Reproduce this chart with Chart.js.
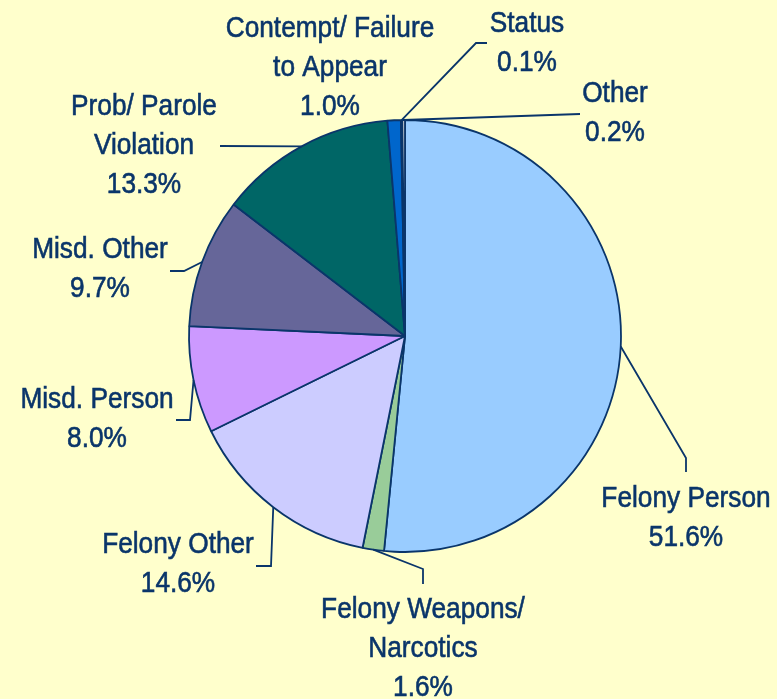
<!DOCTYPE html>
<html>
<head>
<meta charset="utf-8">
<script src="https://cdn.jsdelivr.net/npm/chart.js@4"></script>
<style>
  html, body { margin: 0; padding: 0; background: #FFFFCC; }
  #wrap { width: 777px; height: 699px; }
</style>
</head>
<body>
<div id="wrap"><canvas id="c" width="777" height="699"></canvas></div>
<script>
// ---- data ----
const categories = [
  'Felony Person',
  'Felony Weapons/\nNarcotics',
  'Felony Other',
  'Misd. Person',
  'Misd. Other',
  'Prob/ Parole\nViolation',
  'Contempt/ Failure\nto Appear',
  'Status',
  'Other'
];
const values = [51.6, 1.6, 14.6, 8.0, 9.7, 13.3, 1.0, 0.1, 0.2];
const sliceColors = ['#99CCFF', '#99CC99', '#CCCCFF', '#CC99FF', '#666699', '#006666', '#0066CC', '#A6A6A6', '#DDDDDD'];

// ---- label layout (annotation positions: text centre x, first baseline y, leader elbows) ----
const labelLayout = [
  { x: 686, y: 507, leader: [[686, 458], [686, 472]] },
  { x: 423, y: 618, leader: [[423, 569], [423, 584]] },
  { x: 178, y: 553, leader: [[271, 566], [256, 566]] },
  { x: 97,  y: 408, leader: [[190, 420], [176, 420]] },
  { x: 100, y: 258, leader: [[184, 271], [170, 271]] },
  { x: 144, y: 115, leader: [[220, 146]] },
  { x: 330, y: 37,  leader: null },
  { x: 527, y: 32,  leader: [[476, 43], [487, 43]] },
  { x: 615, y: 102, leader: [[580, 114]] }
];

const textColor = '#0A356A';
const lineHeight = 39;
const labelFont = '30px "Liberation Sans", Arial, sans-serif';
const textSqueeze = 0.875;

const labelPlugin = {
  id: 'pieLabels',
  afterDraw(chart) {
    const ctx = chart.ctx;
    const meta = chart.getDatasetMeta(0);
    ctx.save();
    ctx.strokeStyle = textColor;
    ctx.fillStyle = textColor;
    ctx.font = labelFont;
    ctx.textAlign = 'center';
    ctx.textBaseline = 'alphabetic';
    meta.data.forEach((arc, i) => {
      const lay = labelLayout[i];
      const p = arc.getProps(['x', 'y', 'startAngle', 'endAngle', 'outerRadius'], true);
      const mid = (p.startAngle + p.endAngle) / 2;
      if (lay.leader) {
        ctx.lineWidth = 1.8;
        ctx.beginPath();
        ctx.moveTo(p.x + Math.cos(mid) * p.outerRadius, p.y + Math.sin(mid) * p.outerRadius);
        lay.leader.forEach(pt => ctx.lineTo(pt[0], pt[1]));
        ctx.stroke();
      }
      const lines = categories[i].split('\n').concat([values[i].toFixed(1) + '%']);
      lines.forEach((t, k) => {
        ctx.save();
        ctx.translate(lay.x, lay.y + k * lineHeight);
        ctx.scale(textSqueeze, 1);
        ctx.lineWidth = 0.6;
        ctx.fillText(t, 0, 0);
        ctx.strokeText(t, 0, 0);
        ctx.restore();
      });
    });
    ctx.restore();
  }
};

new Chart(document.getElementById('c'), {
  type: 'pie',
  data: {
    labels: categories.map(s => s.replace('\n', ' ')),
    datasets: [{
      data: values,
      backgroundColor: sliceColors,
      borderColor: '#0A356A',
      borderWidth: 1.8,
      hoverBorderWidth: 1.8,
      hoverOffset: 0
    }]
  },
  options: {
    responsive: false,
    animation: false,
    events: [],
    layout: { padding: { top: 119.1, bottom: 146.1, left: 188.1, right: 155.1 } },
    plugins: { legend: { display: false }, tooltip: { enabled: false } }
  },
  plugins: [labelPlugin]
});
</script>
</body>
</html>
